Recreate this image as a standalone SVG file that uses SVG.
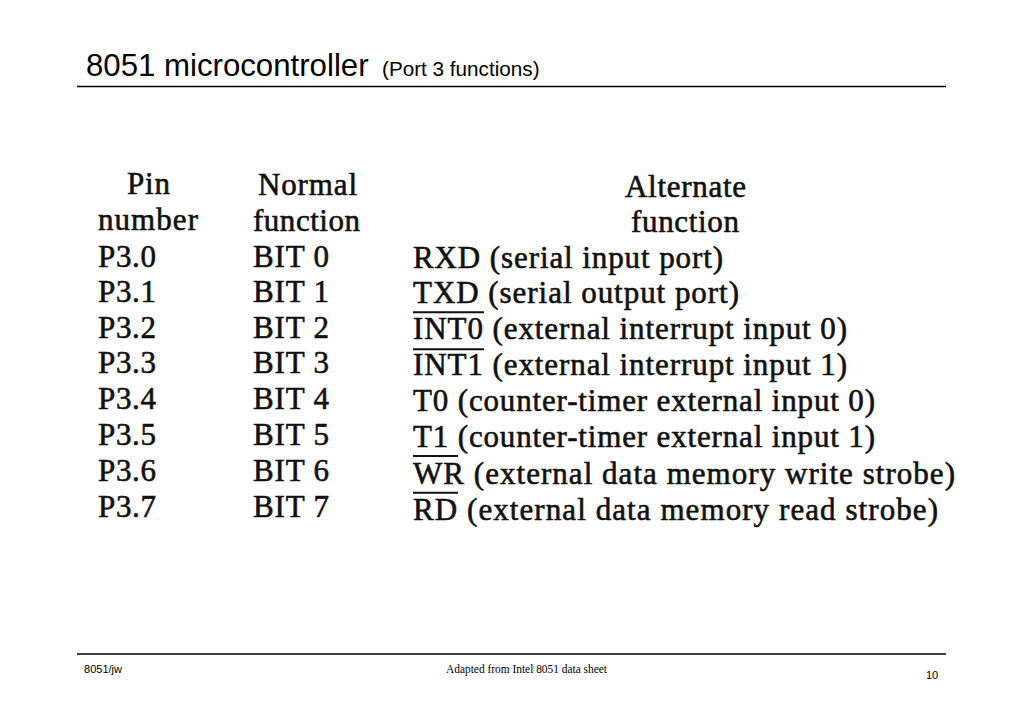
<svg xmlns="http://www.w3.org/2000/svg" width="1024" height="709" viewBox="0 0 1024 709">
  <style>
    .title { font-family: "Liberation Sans", Arial, sans-serif; fill: #000; }
    .tbl { font-family: "Liberation Serif", "Times New Roman", serif; font-size: 31px; fill: #111; stroke: #111; stroke-width: 0.6; }
    .rule { stroke: #000; stroke-width: 1.5; }
    .ovl { stroke: #111; stroke-width: 2; }
    .foot-sans { font-family: "Liberation Sans", Arial, sans-serif; font-size: 11px; fill: #000; }
    .foot-serif { font-family: "Liberation Serif", "Times New Roman", serif; font-size: 12px; fill: #000; }
  </style>
  <rect width="1024" height="709" fill="#fff"/>

  <g id="header">
    <text class="title" x="86" y="76" font-size="31.2">8051 microcontroller</text>
    <text class="title" x="382" y="76" font-size="20.7">(Port 3 functions)</text>
    <line class="rule" x1="77" y1="86.5" x2="946" y2="86.5"/>
  </g>

  <g id="column-headers" class="tbl">
    <text x="127" y="194" textLength="43" lengthAdjust="spacing">Pin</text>
    <text x="98" y="230" textLength="100" lengthAdjust="spacing">number</text>
    <text x="258" y="195" textLength="99" lengthAdjust="spacing">Normal</text>
    <text x="253" y="231" textLength="107" lengthAdjust="spacing">function</text>
    <text x="625" y="197" textLength="121" lengthAdjust="spacing">Alternate</text>
    <text x="631" y="232" textLength="108" lengthAdjust="spacing">function</text>
  </g>

  <g id="row-p30" class="tbl">
    <text x="98" y="266.5" textLength="58" lengthAdjust="spacing">P3.0</text>
    <text x="253" y="266.5" textLength="76" lengthAdjust="spacing">BIT 0</text>
    <text x="413" y="267.5" textLength="310" lengthAdjust="spacing">RXD (serial input port)</text>
  </g>
  <g id="row-p31" class="tbl">
    <text x="98" y="302" textLength="58" lengthAdjust="spacing">P3.1</text>
    <text x="253" y="302" textLength="76" lengthAdjust="spacing">BIT 1</text>
    <text x="413" y="303" textLength="326" lengthAdjust="spacing">TXD (serial output port)</text>
  </g>
  <g id="row-p32" class="tbl">
    <text x="98" y="337.5" textLength="58" lengthAdjust="spacing">P3.2</text>
    <text x="253" y="337.5" textLength="76" lengthAdjust="spacing">BIT 2</text>
    <text x="413" y="339" textLength="434" lengthAdjust="spacing">INT0 (external interrupt input 0)</text>
    <line class="ovl" x1="413" y1="312.3" x2="484" y2="312.3"/>
  </g>
  <g id="row-p33" class="tbl">
    <text x="98" y="373" textLength="58" lengthAdjust="spacing">P3.3</text>
    <text x="253" y="373" textLength="76" lengthAdjust="spacing">BIT 3</text>
    <text x="413" y="375" textLength="434" lengthAdjust="spacing">INT1 (external interrupt input 1)</text>
    <line class="ovl" x1="413" y1="349.3" x2="484" y2="349.3"/>
  </g>
  <g id="row-p34" class="tbl">
    <text x="98" y="409" textLength="58" lengthAdjust="spacing">P3.4</text>
    <text x="253" y="409" textLength="76" lengthAdjust="spacing">BIT 4</text>
    <text x="413" y="411" textLength="462" lengthAdjust="spacing">T0 (counter-timer external input 0)</text>
  </g>
  <g id="row-p35" class="tbl">
    <text x="98" y="445" textLength="58" lengthAdjust="spacing">P3.5</text>
    <text x="253" y="445" textLength="76" lengthAdjust="spacing">BIT 5</text>
    <text x="413" y="447" textLength="462" lengthAdjust="spacing">T1 (counter-timer external input 1)</text>
  </g>
  <g id="row-p36" class="tbl">
    <text x="98" y="481" textLength="58" lengthAdjust="spacing">P3.6</text>
    <text x="253" y="481" textLength="76" lengthAdjust="spacing">BIT 6</text>
    <text x="413" y="484" textLength="542" lengthAdjust="spacing">WR (external data memory write strobe)</text>
    <line class="ovl" x1="413" y1="456" x2="458" y2="456"/>
  </g>
  <g id="row-p37" class="tbl">
    <text x="98" y="517" textLength="58" lengthAdjust="spacing">P3.7</text>
    <text x="253" y="517" textLength="76" lengthAdjust="spacing">BIT 7</text>
    <text x="413" y="520" textLength="525" lengthAdjust="spacing">RD (external data memory read strobe)</text>
    <line class="ovl" x1="413" y1="492.7" x2="458" y2="492.7"/>
  </g>

  <g id="footer">
    <line class="rule" x1="77" y1="654" x2="946" y2="654"/>
    <text class="foot-sans" x="84" y="673" textLength="38" lengthAdjust="spacingAndGlyphs">8051/jw</text>
    <text class="foot-serif" x="446" y="673" textLength="161" lengthAdjust="spacingAndGlyphs">Adapted from Intel 8051 data sheet</text>
    <text class="foot-sans" x="926" y="679">10</text>
  </g>
</svg>
